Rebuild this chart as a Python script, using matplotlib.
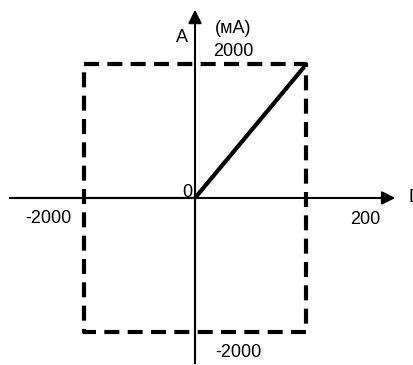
import matplotlib
matplotlib.use("Agg")
import matplotlib.pyplot as plt

plt.rcParams['font.family'] = ['Liberation Sans', 'DejaVu Sans']

# Gränsrektangel (streckad) och karakteristik
rect_x = [-200, 200, 200, -200, -200]
rect_y = [2000, 2000, -2000, -2000, 2000]
line_x = [0, 197]
line_y = [0, 1960]

fig = plt.figure(figsize=(4.14, 3.65), dpi=100)
ax = fig.add_axes([0, 0, 1, 1])
ax.set_xlim(-351.4, 394.6)
ax.set_ylim(-2493, 2955)
ax.axis('off')

# Axlar med pilar
ax.plot([-333, 0], [0, 0], color='black', lw=1.5)
ax.annotate('', xy=(366, 0), xytext=(-333, 0),
            arrowprops=dict(arrowstyle='-|>', lw=1.5, color='black', mutation_scale=20))
ax.plot([0, 0], [-2463, 0], color='black', lw=1.5)
ax.annotate('', xy=(0, 2851), xytext=(0, -2463),
            arrowprops=dict(arrowstyle='-|>', lw=1.5, color='black', mutation_scale=20))

ax.plot(rect_x, rect_y, color='black', lw=3, dashes=(3.6, 2))
ax.plot(line_x, line_y, color='black', lw=3, solid_capstyle='butt')

fs = 13
ax.text(-23.4, 2388, 'A', fontsize=fs, ha='center', va='center')
ax.text(68.5, 2537, '(мА)', fontsize=fs, ha='center', va='center')
ax.text(68.5, 2179, '2000', fontsize=fs, ha='center', va='center')
ax.text(-14.4, 75, '0', fontsize=fs, ha='center', va='center')
ax.text(-265, -299, '-2000', fontsize=fs, ha='center', va='center')
ax.text(306, -328, '200', fontsize=fs, ha='center', va='center')
ax.text(77.5, -2299, '-2000', fontsize=fs, ha='center', va='center')
ax.text(383.8, 0, 'D', fontsize=fs, ha='left', va='center')

fig.savefig('out.png', dpi=100)
